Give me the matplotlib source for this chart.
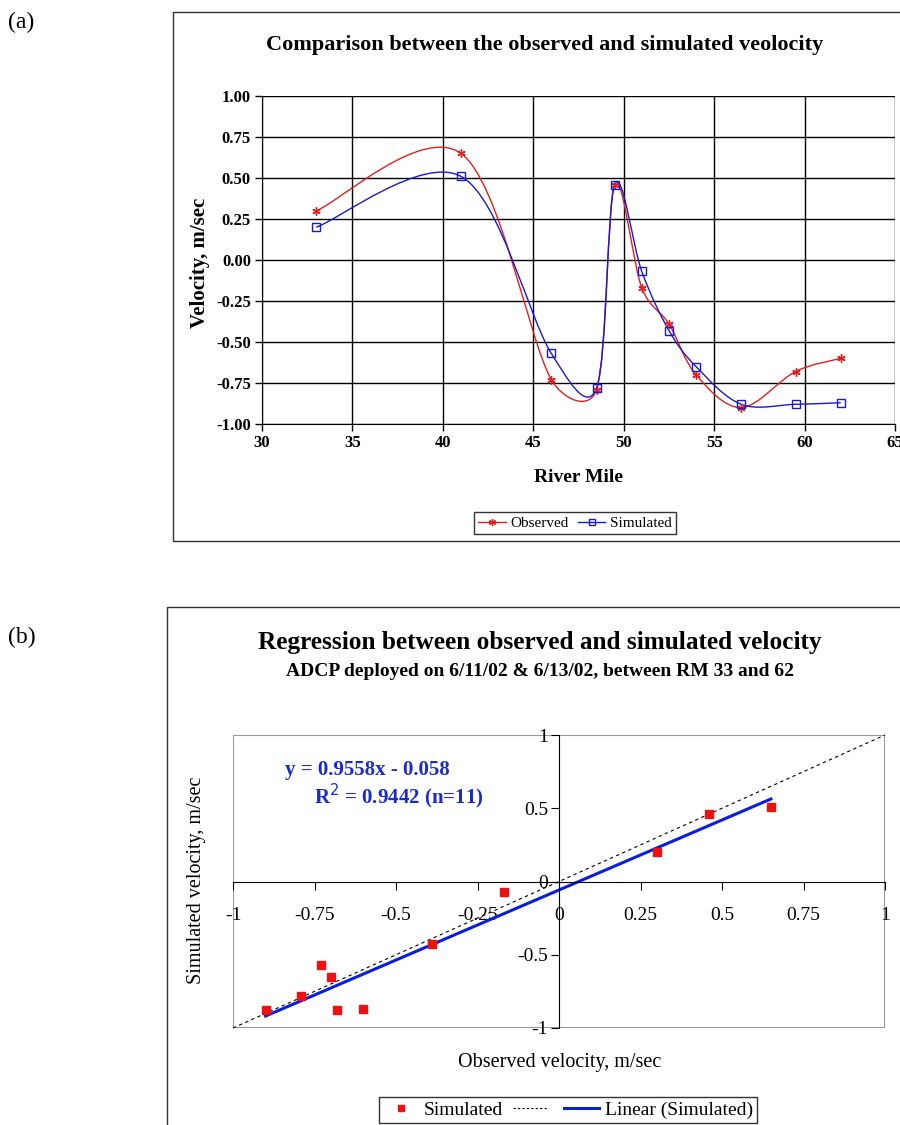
import numpy as np
import matplotlib
matplotlib.use("Agg")
import matplotlib.pyplot as plt
from matplotlib.path import Path
from matplotlib.patches import PathPatch, Rectangle
from matplotlib.lines import Line2D

plt.rcParams['font.family'] = ['Liberation Serif', 'DejaVu Serif']

# Data
river_mile = [33, 41, 46, 48.5, 49.5, 51, 52.5, 54, 56.5, 59.5, 62]
observed = [0.30, 0.65, -0.73, -0.79, 0.46, -0.17, -0.39, -0.70, -0.90, -0.68, -0.60]
simulated = [0.20, 0.51, -0.57, -0.78, 0.46, -0.07, -0.43, -0.65, -0.88, -0.88, -0.87]

fit_slope = 0.9558
fit_intercept = -0.058

a_yticks = [1.00, 0.75, 0.50, 0.25, 0.00, -0.25, -0.50, -0.75, -1.00]
a_xticks = [30, 35, 40, 45, 50, 55, 60, 65]
b_xticks = [-1, -0.75, -0.5, -0.25, 0, 0.25, 0.5, 0.75, 1]
b_xlabels = ['-1', '-0.75', '-0.5', '-0.25', '0', '0.25', '0.5', '0.75', '1']
b_yticks = [-1, -0.5, 0, 0.5, 1]
b_ylabels = ['-1', '-0.5', '0', '0.5', '1']


def smooth_path(ax, x, y):
    # Excel-style smoothed line: Bezier segments built in screen space,
    # control arms capped at half the segment length
    pts = ax.transData.transform(np.column_stack([x, y]).astype(float))
    n = len(pts)
    verts = [pts[0]]
    codes = [Path.MOVETO]
    for i in range(n - 1):
        p0 = pts[max(i - 1, 0)]
        p1 = pts[i]
        p2 = pts[i + 1]
        p3 = pts[min(i + 2, n - 1)]
        half = np.hypot(*(p2 - p1)) / 2
        a1 = (p2 - p0) / 6
        a2 = (p3 - p1) / 6
        l1 = np.hypot(*a1)
        l2 = np.hypot(*a2)
        if l1 > half:
            a1 = a1 * half / l1
        if l2 > half:
            a2 = a2 * half / l2
        verts += [p1 + a1, p2 - a2, p2]
        codes += [Path.CURVE4] * 3
    verts = ax.transData.inverted().transform(np.array(verts))
    return Path(verts, codes)


W, H = 900, 1125
fig = plt.figure(figsize=(9, 11.25), dpi=100)


def fx(px):
    return px / W


def fy(py):
    return 1 - py / H


# outer chart borders
fig.patches.append(Rectangle((fx(173), fy(541)), 1.0, (541 - 12) / H, transform=fig.transFigure,
                             fill=False, edgecolor='#333333', lw=1.0))
fig.patches.append(Rectangle((fx(167), -0.1), 1.0, fy(607) + 0.1, transform=fig.transFigure,
                             fill=False, edgecolor='#333333', lw=1.0))

fig.text(fx(8), fy(22), '(a)', fontsize=17, va='center', ha='left')
fig.text(fx(8), fy(637), '(b)', fontsize=17, va='center', ha='left')

# ---------------- Panel (a) ----------------
axa = fig.add_axes([fx(262), fy(424), (895 - 262) / W, (424 - 96) / H])
axa.set_xlim(30, 65)
axa.set_ylim(-1.0, 1.0)
axa.grid(True, color='black', lw=1.0)
axa.set_axisbelow(True)
axa.set_xticks(a_xticks)
axa.set_yticks(a_yticks)
axa.set_yticklabels(['%.2f' % v for v in a_yticks])
for lab in axa.get_xticklabels() + axa.get_yticklabels():
    lab.set_fontweight('bold')
    lab.set_fontsize(12)
axa.tick_params(length=5, width=1, direction='out', pad=3)
for s in ['top', 'right']:
    axa.spines[s].set_visible(False)
axa.spines['left'].set_color('black')
axa.spines['bottom'].set_color('black')

axa.add_patch(PathPatch(smooth_path(axa, river_mile, observed), fill=False, edgecolor='#e02020', lw=1.0))
axa.add_patch(PathPatch(smooth_path(axa, river_mile, simulated), fill=False, edgecolor='#1a1acc', lw=1.0))
axa.plot(river_mile, observed, ls='none', marker=(6, 2, 0), ms=6, mec='#e02020', mew=1.0)
axa.plot(river_mile, simulated, ls='none', marker='s', ms=6, mfc='none', mec='#1a1acc', mew=1.0)

fig.text(fx(545), fy(45), 'Comparison between the observed and simulated veolocity',
         fontsize=16, fontweight='bold', ha='center', va='center')
fig.text(fx(200), fy(263), 'Velocity, m/sec', fontsize=15, fontweight='bold',
         rotation=90, ha='center', va='center')
fig.text(fx(578), fy(478), 'River Mile', fontsize=14, fontweight='bold', ha='center', va='center')

handles_a = [Line2D([], [], color='#e02020', lw=1.0, marker=(6, 2, 0), ms=5, mew=1.0),
             Line2D([], [], color='#1a1acc', lw=1.0, marker='s', ms=5, mfc='none', mew=1.0)]
leg_a = fig.legend(handles_a, ['Observed', 'Simulated'], loc='center', ncol=2,
                   bbox_to_anchor=(fx(575), fy(523)), frameon=True, fancybox=False,
                   edgecolor='black', fontsize=11, handlelength=1.8, handletextpad=0.3,
                   columnspacing=0.6, borderpad=0.3)
leg_a.get_frame().set_linewidth(1.0)

# ---------------- Panel (b) ----------------
axb = fig.add_axes([fx(233), fy(1028), (885 - 233) / W, (1028 - 735) / H])
axb.set_xlim(-1, 1)
axb.set_ylim(-1, 1)
axb.spines['left'].set_position(('data', 0))
axb.spines['bottom'].set_position(('data', 0))
for s in ['top', 'right']:
    axb.spines[s].set_visible(False)
axb.add_patch(Rectangle((0, 0), 1, 1, transform=axb.transAxes, fill=False,
                        edgecolor='#999999', lw=1.5, zorder=0))
axb.set_xticks(b_xticks)
axb.set_xticklabels(b_xlabels)
axb.set_yticks(b_yticks)
axb.set_yticklabels(b_ylabels)
axb.tick_params(axis='x', length=6, direction='out', pad=12, labelsize=14)
axb.tick_params(axis='y', length=6, direction='out', pad=2, labelsize=14)

axb.plot([-1, 1], [-1, 1], ls=(0, (3, 3)), color='black', lw=0.8, clip_on=False)
xfit = np.array([min(observed), max(observed)])
axb.plot(xfit, fit_slope * xfit + fit_intercept, color='#0a1ee0', lw=2.2)
axb.plot(observed, simulated, ls='none', marker='s', ms=6, color='#ee1111')

axb.text(-0.84, 0.76, 'y = 0.9558x - 0.058', color='#1a2ad0', fontsize=15,
         fontweight='bold', va='center', ha='left')
axb.text(-0.75, 0.58, 'R$^2$ = 0.9442 (n=11)', color='#1a2ad0', fontsize=15,
         fontweight='bold', va='center', ha='left')

fig.text(fx(540), fy(643), 'Regression between observed and simulated velocity',
         fontsize=18.2, fontweight='bold', ha='center', va='center')
fig.text(fx(540), fy(672), 'ADCP deployed on 6/11/02 & 6/13/02, between RM 33 and 62',
         fontsize=14, fontweight='bold', ha='center', va='center')
fig.text(fx(197), fy(880), 'Simulated velocity, m/sec', fontsize=14.5,
         rotation=90, ha='center', va='center')
fig.text(fx(560), fy(1062), 'Observed velocity, m/sec', fontsize=14.5, ha='center', va='center')

handles_b = [Line2D([], [], ls='none', marker='s', ms=5, color='#ee1111'),
             Line2D([], [], ls=(0, (2, 2)), color='black', lw=0.8),
             Line2D([], [], color='#0a1ee0', lw=2.2)]
leg_b = fig.legend(handles_b, ['Simulated', '', 'Linear (Simulated)'], loc='center', ncol=3,
                   bbox_to_anchor=(fx(568), fy(1110)), frameon=True, fancybox=False,
                   edgecolor='black', fontsize=14, handlelength=1.8, handletextpad=0.3,
                   columnspacing=0.5, borderpad=0.2)
leg_b.get_frame().set_linewidth(1.0)

fig.savefig('out.png', dpi=100, facecolor='white')
